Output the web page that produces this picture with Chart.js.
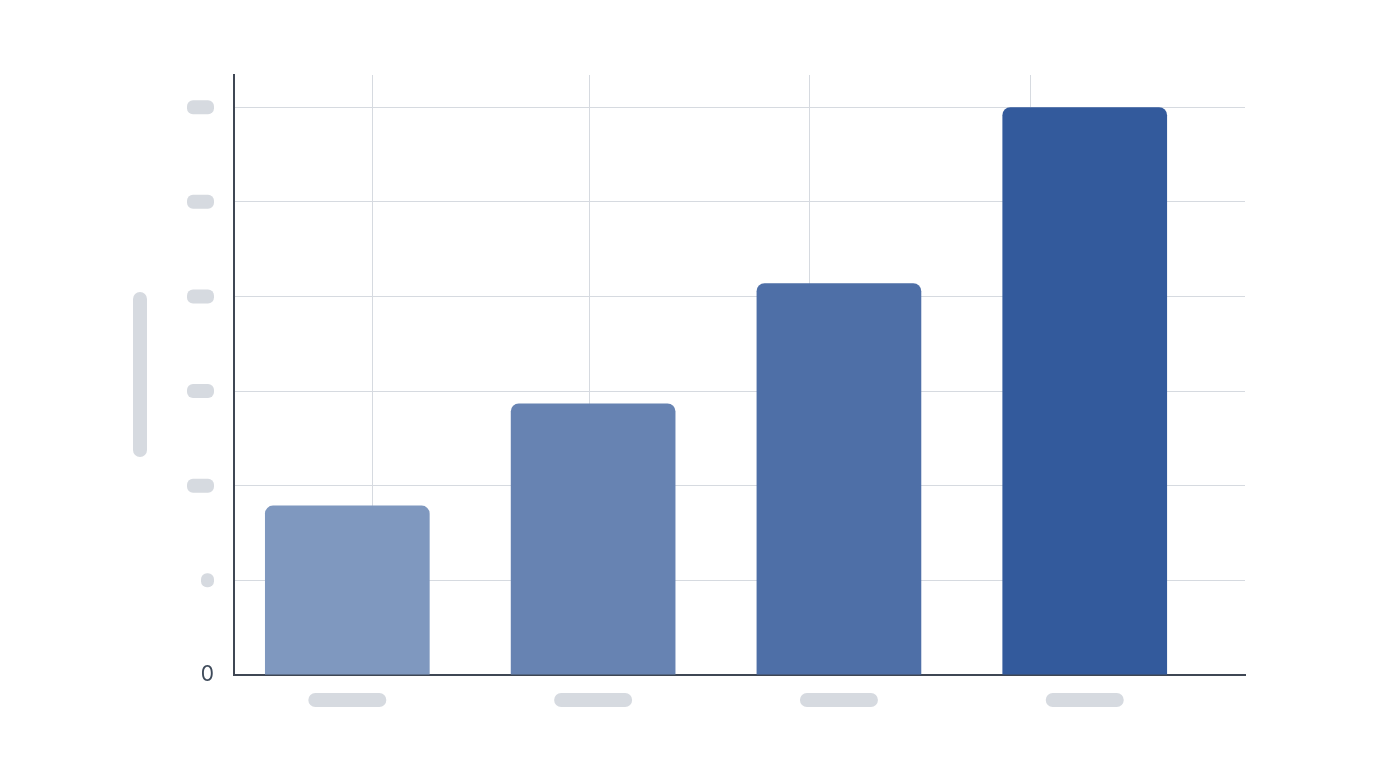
<!DOCTYPE html>
<html>
<head>
<meta charset="utf-8">
<script src="https://cdn.jsdelivr.net/npm/chart.js@4"></script>
<style>
  body { margin: 0; background: #ffffff; }
  canvas { display: block; }
</style>
</head>
<body>
<canvas id="grafico" width="1376" height="768"></canvas>
<script>
// dados do grafico
const categorias = ['Cat 1', 'Cat 2', 'Cat 3', 'Cat 4'];
const valores = [1.79, 2.87, 4.14, 6];
const cores = ['#7f98bf', '#6783b2', '#4e6fa7', '#335a9c'];
const yTicks = [0, 1, 2, 3, 4, 5, 6];
const linhasVerticais = [0.104, 0.986, 1.881, 2.779];

const CINZA = '#d6dae0';
const EIXO = '#3f4754';

// desenha os "rotulos" cinzas arredondados
function pilula(ctx, cx, cy, w, h) {
  ctx.beginPath();
  ctx.roundRect(cx - w / 2, cy - h / 2, w, h, Math.min(h / 2, 6));
  ctx.fill();
}

const pluginRotulos = {
  id: 'rotulos',
  afterDraw(chart) {
    const ctx = chart.ctx;
    const y = chart.scales.y;
    const x = chart.scales.x;
    const area = chart.chartArea;
    ctx.save();
    ctx.fillStyle = CINZA;
    y.ticks.forEach(t => {
      if (t.value === 0) return;
      const py = y.getPixelForValue(t.value);
      const w = t.value === 1 ? 13 : 27;
      pilula(ctx, 214 - w / 2, py, w, 14);
    });
    categorias.forEach((c, i) => {
      ctx.beginPath();
      ctx.roundRect(x.getPixelForValue(i) - 39, 693, 78, 14, 7);
      ctx.fill();
    });
    ctx.beginPath();
    ctx.roundRect(133, (area.top + area.bottom) / 2 - 83, 14, 165, 7);
    ctx.fill();
    ctx.restore();
  }
};

const ctx = document.getElementById('grafico').getContext('2d');
const grafico = new Chart(ctx, {
  type: 'bar',
  data: {
    labels: categorias,
    datasets: [{
      label: 'Valores',
      data: valores.map((v, i) => ({ x: i, y: v })),
      backgroundColor: cores,
      borderRadius: 8,
      borderSkipped: 'start',
      barPercentage: 0.67,
      categoryPercentage: 1
    }]
  },
  options: {
    responsive: false,
    animation: false,
    layout: { padding: { left: 0, right: 131, top: 75, bottom: 0 } },
    plugins: { legend: { display: false }, tooltip: { enabled: false } },
    scales: {
      x: {
        type: 'linear',
        offset: false,
        min: -0.461,
        max: 3.652,
        afterBuildTicks: axis => { axis.ticks = categorias.map((c, i) => ({ value: i })); },
        afterFit: axis => { axis.height = 93; },
        ticks: { display: false },
        grid: { display: false, offset: false },
        border: { color: EIXO, width: 2 }
      },
      xg: {
        type: 'linear',
        position: 'top',
        offset: false,
        min: -0.461,
        max: 3.652,
        afterBuildTicks: axis => { axis.ticks = linhasVerticais.map(v => ({ value: v })); },
        afterFit: axis => { axis.height = 0; },
        ticks: { display: false },
        grid: { color: CINZA, lineWidth: 1, drawTicks: false, offset: false },
        border: { display: false }
      },
      y: {
        min: 0,
        max: 6.34,
        afterBuildTicks: axis => { axis.ticks = yTicks.map(v => ({ value: v })); },
        afterFit: axis => { axis.width = 234; },
        ticks: {
          padding: 20,
          color: '#3e4a5a',
          font: { family: 'Inter', size: 21 },
          callback: v => (v === 0 ? '0' : '')
        },
        grid: { color: CINZA, lineWidth: 1, drawTicks: false },
        border: { color: EIXO, width: 2 }
      }
    }
  },
  plugins: [pluginRotulos]
});
</script>
</body>
</html>
